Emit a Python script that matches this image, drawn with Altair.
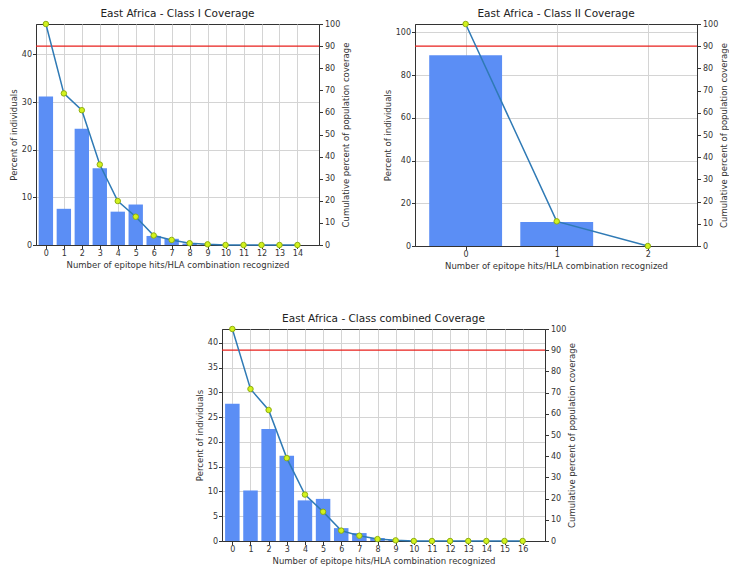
import altair as alt
import pandas as pd

FONT = "DejaVu Sans"
BAR_COLOR = "#5b8ef5"
LINE_COLOR = "#2f7ab5"
X_TITLE = "Number of epitope hits/HLA combination recognized"
Y_LEFT = "Percent of individuals"
Y_RIGHT = "Cumulative percent of population coverage"

# Panel 1: Class I
hits1 = list(range(15))
pct1 = [31.2, 7.6, 24.4, 16.1, 7.0, 8.5, 1.9, 1.3, 0.3, 0.1, 0, 0, 0, 0, 0]
cum1 = [100, 68.6, 61.0, 36.4, 19.9, 12.8, 4.3, 2.3, 0.8, 0.3, 0, 0, 0, 0, 0]

# Panel 2: Class II
hits2 = [0, 1, 2]
pct2 = [89.3, 11.2, 0]
cum2 = [100, 11.1, 0]

# Panel 3: Class combined
hits3 = list(range(17))
pct3 = [27.7, 10.2, 22.6, 17.2, 8.2, 8.5, 2.6, 1.6, 0.6, 0.2, 0, 0, 0, 0, 0, 0, 0]
cum3 = [100, 71.7, 61.8, 39.1, 21.9, 13.8, 4.9, 2.5, 0.9, 0.3, 0, 0, 0, 0, 0, 0, 0]

threshold = [90]
right_ticks = list(range(0, 101, 10))


def panel(title, hits, pct, cum, xdom, ydom, yticks, w, h):
    df = pd.DataFrame({"hits": hits, "pct": pct, "cum": cum})
    base = alt.Chart(df)
    xaxis = alt.Axis(values=hits, title=X_TITLE, grid=True, format="d",
                     labelPadding=1, titlePadding=3)
    xscale = alt.Scale(domain=xdom, nice=False, zero=False)
    raxis = alt.Axis(orient="right", values=right_ticks, title=Y_RIGHT, grid=False,
                     titleAngle=270, titleBaseline="top", titlePadding=2)
    rscale = alt.Scale(domain=[0, 100], nice=False)

    bars = base.transform_calculate(
        lo="datum.hits - 0.4", hi="datum.hits + 0.4"
    ).mark_bar(color=BAR_COLOR).encode(
        x=alt.X("lo:Q", scale=xscale, axis=xaxis),
        x2="hi:Q",
        y=alt.Y("pct:Q", scale=alt.Scale(domain=ydom, nice=False),
                axis=alt.Axis(values=yticks, title=Y_LEFT, grid=True,
                              titlePadding=3, labelPadding=1)),
        y2=alt.datum(0),
    )
    rule = alt.Chart(pd.DataFrame({"thr": threshold})).mark_rule(
        color="#e8211c", strokeWidth=1.3
    ).encode(y=alt.Y("thr:Q", scale=rscale, axis=raxis))
    line = base.mark_line(color=LINE_COLOR, strokeWidth=1.5).encode(
        x=alt.X("hits:Q", scale=xscale, axis=xaxis),
        y=alt.Y("cum:Q", scale=rscale, axis=raxis),
    )
    pts = base.mark_point(
        filled=True, fill="#d2f21e", stroke="#8fae12", strokeWidth=1, size=30, opacity=1
    ).encode(
        x=alt.X("hits:Q", scale=xscale, axis=xaxis),
        y=alt.Y("cum:Q", scale=rscale, axis=raxis),
    )
    right = alt.layer(rule, line, pts)
    return alt.layer(bars, right).resolve_scale(y="independent").properties(
        width=w, height=h,
        title=alt.TitleParams(title, font=FONT, fontSize=10.5, fontWeight="normal",
                              color="#222", offset=0, frame="group"),
    )


p1 = panel("East Africa - Class I Coverage", hits1, pct1, cum1,
           [-0.55, 15.2], [0, 46.4], [0, 10, 20, 30, 40], 283, 221)
p2 = panel("East Africa - Class II Coverage", hits2, pct2, cum2,
           [-0.556, 2.54], [0, 103.9], [0, 20, 40, 60, 80, 100], 282, 222)
p3 = panel("East Africa - Class combined Coverage", hits3, pct3, cum3,
           [-0.57, 17.23], [0, 42.8], [0, 5, 10, 15, 20, 25, 30, 35, 40], 323, 212)

spacer = alt.Chart(pd.DataFrame({"a": [0]})).mark_point(opacity=0).properties(
    width=158, height=10, view=alt.ViewBackground(strokeOpacity=0)
)

top = alt.hconcat(p1, p2, spacing=31)
bottom = alt.hconcat(spacer, p3, spacing=0)
chart = alt.vconcat(top, bottom, spacing=42).configure_view(
    stroke="#333", strokeWidth=1
).configure_axis(
    labelFont=FONT, titleFont=FONT, labelFontSize=8, titleFontSize=8.5,
    titleFontWeight="normal", labelColor="#333", titleColor="#333",
    tickColor="#333", domainColor="#333", gridColor="#d4d4d4", tickSize=3.5,
    labelPadding=2,
).properties(padding={"left": 0, "top": 0, "right": 0, "bottom": 1})

chart.save("out.html", embed_options={"renderer": "svg", "actions": False})
